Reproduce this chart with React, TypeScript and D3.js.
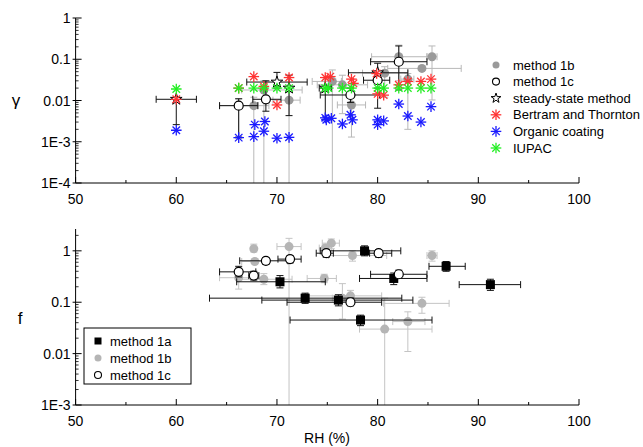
import React from 'react';
import * as d3 from 'd3';

// [RH, value, RH low, RH high, value low, value high]  (null = no bar)
type P = (number | null)[];

// ---- upper panel (gamma) ----
const bertram: number[][] = [
  [60, 0.0107], [66.2, 0.02], [67.7, 0.038], [68.7, 0.022], [70.0, 0.0078], [71.2, 0.036],
  [74.8, 0.036], [75.3, 0.038], [77.4, 0.033], [77.6, 0.026], [79.9, 0.045], [80.0, 0.0145],
  [80.6, 0.0135], [82.1, 0.024], [83.0, 0.029], [84.3, 0.029], [85.3, 0.033],
];
const organic: number[][] = [
  [60, 0.0019], [66.2, 0.00126], [67.7, 0.00133], [67.8, 0.0026], [68.8, 0.0031], [68.7, 0.0018],
  [70.0, 0.00122], [71.2, 0.00128], [74.8, 0.0038], [74.9, 0.0034], [75.4, 0.0037], [76.5, 0.0027],
  [77.3, 0.0045], [77.5, 0.0034], [80.0, 0.0034], [80.0, 0.0026], [80.6, 0.0032], [82.1, 0.0082],
  [83.0, 0.0042], [84.3, 0.003], [85.3, 0.0071],
];
const iupac: number[][] = [
  [60, 0.019], [66.2, 0.02], [67.7, 0.02], [68.7, 0.02], [70.0, 0.02], [71.2, 0.02], [74.8, 0.02],
  [75.1, 0.02], [76.5, 0.02], [77.4, 0.02], [80.0, 0.02], [80.6, 0.02], [82.1, 0.02], [83.0, 0.02],
  [84.3, 0.02], [85.3, 0.02],
];
const steadyTop: P[] = [
  [60, 0.0107, 58.0, 62.0, 0.0026, null],
  [70.0, 0.028, 67.0, 73.0, 0.02, 0.048],
  [71.2, 0.02, null, null, 0.0043, 0.041],
  [74.8, 0.02, 74.2, 75.4, 0.0035, 0.036],
  [80.0, 0.047, 77.1, 83.0, 0.02, 0.08],
];
const m1cTop: P[] = [
  [66.2, 0.0075, 64.3, 68.1, 0.0013, 0.011],
  [68.9, 0.0107, 67.6, 70.4, 0.0055, 0.03],
  [77.3, 0.0136, 74.3, 80.2, 0.009, 0.02],
  [80.0, 0.031, 78.6, 81.2, 0.0065, 0.05],
  [82.1, 0.087, 79.3, 84.9, 0.018, 0.21],
];
const m1bTop: P[] = [
  [66.2, 0.0075, 64.3, 68.1, 0.0012, 0.011],
  [67.7, 0.0075, 66.5, 69.2, 1e-6, 0.012],
  [68.7, 0.018, 66.5, 72.5, 1e-6, 0.03],
  [71.2, 0.0102, 69.6, 72.3, 1e-6, 0.016],
  [75.5, 0.029, 73.5, 76.4, 1e-6, 0.055],
  [76.5, 0.024, 74.0, 79.0, 0.0048, 0.041],
  [77.4, 0.0078, 76.0, 78.8, 0.0013, 0.012],
  [80.7, 0.046, 78.5, 83.0, 0.012, 0.066],
  [82.1, 0.115, 79.4, 84.9, 0.03, 0.22],
  [83.0, 0.033, 82.3, 83.6, 0.002, 0.045],
  [84.4, 0.06, 81.0, 88.3, null, null],
  [85.4, 0.115, 84.9, 85.9, 0.0103, 0.21],
];

// ---- lower panel (f) ----
const m1aBot: P[] = [
  [70.3, 0.25, 66.0, 74.8, 0.19, 0.33],
  [72.8, 0.12, 63.3, 82.4, 0.095, 0.15],
  [76.1, 0.11, 68.5, 83.5, 0.085, 0.14],
  [78.3, 0.045, 71.3, 85.4, 0.035, 0.056],
  [78.7, 1.0, 74.3, 82.3, 0.8, 1.25],
  [81.6, 0.29, 78.2, 84.9, 0.22, 0.37],
  [86.8, 0.5, 85.1, 88.7, 0.4, 0.62],
  [91.2, 0.22, 88.1, 94.2, 0.17, 0.28],
];
const m1cBot: P[] = [
  [66.2, 0.39, 64.3, 67.9, 0.31, 0.5],
  [67.7, 0.33, 67.2, 68.2, 0.27, 0.4],
  [68.9, 0.64, 66.3, 71.1, 0.55, 0.74],
  [71.3, 0.69, 70.1, 72.4, 0.58, 0.8],
  [74.9, 0.9, 73.9, 75.6, 0.75, 1.05],
  [80.1, 0.9, 79.2, 81.4, 0.75, 1.05],
  [82.1, 0.35, 79.3, 84.9, 0.29, 0.42],
  [77.3, 0.1, 71.0, 80.4, 0.085, 0.12],
];
const m1bBot: P[] = [
  [67.7, 1.1, null, null, 0.95, 1.35],
  [67.8, 0.62, 66.5, 69.0, null, null],
  [66.2, 0.3, 64.3, 67.9, 0.18, 0.48],
  [68.7, 0.28, 66.0, 71.5, 0.22, 0.36],
  [71.2, 1.21, 70.0, 72.4, 1e-6, 1.75],
  [74.8, 1.13, 74.2, 75.4, null, null],
  [75.4, 1.41, 74.5, 76.2, 1.1, 1.7],
  [77.5, 0.81, 75.1, 80.9, 0.63, 1.0],
  [85.4, 0.81, 84.9, 85.9, 0.63, 1.0],
  [74.7, 0.29, 73.0, 75.9, 0.24, 0.35],
  [77.3, 0.133, 73.0, 80.4, 0.1, 0.17],
  [76.5, 0.12, 75.5, 77.5, 0.047, 0.23],
  [84.4, 0.095, 80.6, 87.1, 0.061, 0.125],
  [80.7, 0.03, 78.2, 85.4, 1e-6, 0.12],
  [83.0, 0.042, 81.5, 84.7, 0.011, 0.065],
];

const xTicks = [50, 60, 70, 80, 90, 100];
const topTicks = [1, 0.1, 0.01, 0.001, 0.0001];
const botTicks = [1, 0.1, 0.01, 0.001];
const topLegend = ['method 1b', 'method 1c', 'steady-state method', 'Bertram and Thornton', 'Organic coating', 'IUPAC'];
const botLegend = ['method 1a', 'method 1b', 'method 1c'];

const FONT = "Arial, 'Liberation Sans', sans-serif";
const RED = '#ff3333';
const BLUE = '#1a1aff';
const GREEN = '#22ee22';

const fmt = (v: number) => (v >= 0.01 ? String(v) : `1E${Math.round(Math.log10(v))}`);

const starPath = d3.symbol(d3.symbolStar, 42)() as string;

const Asterisk = ({ x, y, c }: { x: number; y: number; c: string }) => {
  const r = 5.3;
  const d = r * Math.SQRT1_2;
  return (
    <g stroke={c} strokeWidth={1.3}>
      <line x1={x - r} y1={y} x2={x + r} y2={y} />
      <line x1={x} y1={y - r} x2={x} y2={y + r} />
      <line x1={x - d} y1={y - d} x2={x + d} y2={y + d} />
      <line x1={x - d} y1={y + d} x2={x + d} y2={y - d} />
    </g>
  );
};

const ErrBars = ({ pts, x, y, color }: { pts: P[]; x: any; y: any; color: string }) => (
  <g stroke={color} strokeWidth={1} fill="none">
    {pts.map((p, i) => {
      const [rh, v, xl, xh, yl, yh] = p as number[];
      const cx = x(rh), cy = y(v);
      const cap = 3.5;
      return (
        <g key={i}>
          {xl != null && <line x1={x(xl)} x2={x(xh)} y1={cy} y2={cy} />}
          {xl != null && <line x1={x(xl)} x2={x(xl)} y1={cy - cap} y2={cy + cap} />}
          {xh != null && <line x1={x(xh)} x2={x(xh)} y1={cy - cap} y2={cy + cap} />}
          {yl != null && <line x1={cx} x2={cx} y1={y(yl)} y2={cy} />}
          {yh != null && <line x1={cx} x2={cx} y1={y(yh)} y2={cy} />}
          {yl != null && <line x1={cx - cap} x2={cx + cap} y1={y(yl)} y2={y(yl)} />}
          {yh != null && <line x1={cx - cap} x2={cx + cap} y1={y(yh)} y2={y(yh)} />}
        </g>
      );
    })}
  </g>
);

const Axes = ({ x, y, ticks, yTop, label, labelY }: any) => {
  const [r0, r1] = x.range();
  const yBot = y.range()[0];
  const [d0, d1] = y.domain();
  const minors: number[] = [];
  for (let e = Math.floor(Math.log10(d0)); e <= Math.ceil(Math.log10(d1)); e++) {
    for (let k = 2; k <= 9; k++) {
      const v = k * Math.pow(10, e);
      if (v > d0 && v < d1) minors.push(v);
    }
  }
  return (
    <g fontFamily={FONT} fill="#000">
      <line x1={r0} x2={r0} y1={yTop} y2={yBot} stroke="#000" />
      <line x1={r0} x2={r1} y1={yBot} y2={yBot} stroke="#000" />
      {minors.map((v, i) => (
        <line key={'m' + i} x1={r0} x2={r0 + 3} y1={y(v)} y2={y(v)} stroke="#000" strokeWidth={0.8} />
      ))}
      {ticks.map((v: number) => (
        <g key={v}>
          <line x1={r0 - 3} x2={r0 + 6} y1={y(v)} y2={y(v)} stroke="#000" />
          <text x={r0 - 5} y={y(v) + 5} textAnchor="end" fontSize={14}>{fmt(v)}</text>
        </g>
      ))}
      {d3.range(55, 100, 10).map((v) => (
        <line key={'xm' + v} x1={x(v)} x2={x(v)} y1={yBot} y2={yBot - 3} stroke="#000" />
      ))}
      {xTicks.map((v) => (
        <g key={'x' + v}>
          <line x1={x(v)} x2={x(v)} y1={yBot} y2={yBot - 6} stroke="#000" />
          <text x={x(v)} y={yBot + 21} textAnchor="middle" fontSize={14}>{v}</text>
        </g>
      ))}
      <text x={label === 'γ' ? 16 : 20} y={labelY} textAnchor="middle" fontSize={17}>{label}</text>
    </g>
  );
};

export default function App() {
  const x = d3.scaleLinear().domain([50, 100]).range([75.6, 579]);
  const yTop = d3.scaleLog().domain([1e-4, 1]).range([183, 18]);
  const yBot = d3.scaleLog().domain([1e-3, Math.pow(10, 0.425)]).range([405, 229]);

  return (
    <svg width={643} height={447} style={{ position: 'absolute', left: 0, top: 0, background: '#fff' }}>
      <defs>
        <clipPath id="clipTop"><rect x={75.6} y={0} width={510} height={183} /></clipPath>
        <clipPath id="clipBot"><rect x={75.6} y={215} width={510} height={190} /></clipPath>
      </defs>

      {/* upper panel */}
      <g clipPath="url(#clipTop)">
        <ErrBars pts={m1bTop} x={x} y={yTop} color="#b8b8b8" />
        {m1bTop.map((p, i) => (
          <circle key={i} cx={x(p[0] as number)} cy={yTop(p[1] as number)} r={4.5} fill="#9a9a9a" />
        ))}
        <ErrBars pts={m1cTop} x={x} y={yTop} color="#111" />
        <ErrBars pts={steadyTop} x={x} y={yTop} color="#111" />
        {m1cTop.map((p, i) => (
          <circle key={i} cx={x(p[0] as number)} cy={yTop(p[1] as number)} r={4.5} fill="#fff" stroke="#000" strokeWidth={1.2} />
        ))}
        {steadyTop.map((p, i) => (
          <path key={i} d={starPath} transform={`translate(${x(p[0] as number)},${yTop(p[1] as number)})`} fill="#fff" stroke="#000" strokeWidth={1} />
        ))}
        {bertram.map((p, i) => <Asterisk key={'r' + i} x={x(p[0])} y={yTop(p[1])} c={RED} />)}
        {organic.map((p, i) => <Asterisk key={'b' + i} x={x(p[0])} y={yTop(p[1])} c={BLUE} />)}
        {iupac.map((p, i) => <Asterisk key={'g' + i} x={x(p[0])} y={yTop(p[1])} c={GREEN} />)}
      </g>
      <Axes x={x} y={yTop} ticks={topTicks} yTop={18} label="γ" labelY={106} />

      {/* upper legend */}
      <g fontFamily={FONT} fontSize={13}>
        {topLegend.map((t, i) => {
          const ly = 65 + i * 16.6;
          const mx = 496;
          return (
            <g key={t}>
              {i === 0 && <circle cx={mx} cy={ly} r={3.5} fill="#9a9a9a" />}
              {i === 1 && <circle cx={mx} cy={ly} r={3.5} fill="#fff" stroke="#000" strokeWidth={1.1} />}
              {i === 2 && <path d={d3.symbol(d3.symbolStar, 30)() as string} transform={`translate(${mx},${ly})`} fill="#fff" stroke="#000" />}
              {i === 3 && <Asterisk x={mx} y={ly} c={RED} />}
              {i === 4 && <Asterisk x={mx} y={ly} c={BLUE} />}
              {i === 5 && <Asterisk x={mx} y={ly} c={GREEN} />}
              <text x={513} y={ly + 4.5}>{t}</text>
            </g>
          );
        })}
      </g>

      {/* lower panel */}
      <g clipPath="url(#clipBot)">
        <ErrBars pts={m1bBot} x={x} y={yBot} color="#c4c4c4" />
        {m1bBot.map((p, i) => (
          <circle key={i} cx={x(p[0] as number)} cy={yBot(p[1] as number)} r={4.5} fill="#b5b5b5" />
        ))}
        <ErrBars pts={m1aBot} x={x} y={yBot} color="#111" />
        <ErrBars pts={m1cBot} x={x} y={yBot} color="#111" />
        {m1aBot.map((p, i) => (
          <rect key={i} x={x(p[0] as number) - 4.5} y={yBot(p[1] as number) - 4.5} width={9} height={9} fill="#000" />
        ))}
        {m1cBot.map((p, i) => (
          <circle key={i} cx={x(p[0] as number)} cy={yBot(p[1] as number)} r={4.5} fill="#fff" stroke="#000" strokeWidth={1.2} />
        ))}
      </g>
      <Axes x={x} y={yBot} ticks={botTicks} yTop={229} label="f" labelY={324} />

      {/* lower legend */}
      <g fontFamily={FONT} fontSize={13}>
        <rect x={84} y={328} width={107} height={56} fill="#fff" stroke="#000" />
        {botLegend.map((t, i) => {
          const ly = 341 + i * 17;
          const mx = 98;
          return (
            <g key={t}>
              {i === 0 && <rect x={mx - 3.5} y={ly - 3.5} width={7} height={7} fill="#000" />}
              {i === 1 && <circle cx={mx} cy={ly} r={3.5} fill="#b5b5b5" />}
              {i === 2 && <circle cx={mx} cy={ly} r={3.5} fill="#fff" stroke="#000" strokeWidth={1.1} />}
              <text x={110} y={ly + 4.5}>{t}</text>
            </g>
          );
        })}
      </g>

      <text x={327} y={443} textAnchor="middle" fontFamily={FONT} fontSize={14}>RH (%)</text>
    </svg>
  );
}
